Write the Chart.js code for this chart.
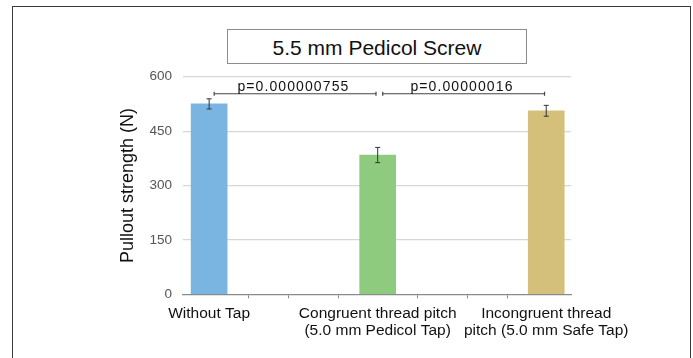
<!DOCTYPE html>
<html>
<head>
<meta charset="utf-8">
<script src="https://cdn.jsdelivr.net/npm/chart.js@4.4.0/dist/chart.umd.min.js"></script>
<style>
  html, body { margin: 0; padding: 0; background: #fff; }
  #wrap { position: relative; width: 693px; height: 358px; overflow: hidden; }
  canvas { position: absolute; left: 0; top: 0; }
  #frame { position: absolute; left: 12px; top: 6px; width: 679px; height: 400px; box-sizing: border-box; border: 1.5px solid #3c3c3c; }
  #title { position: absolute; left: 227px; top: 29px; width: 300px; height: 35px; box-sizing: border-box;
           border: 1.5px solid #8c8c8c; background: #fff; color: #111; text-align: center;
           font: 21px "Liberation Sans", Arial, sans-serif; line-height: 33px; padding-top: 1px; }
</style>
</head>
<body>
<div id="wrap">
  <canvas id="chart" width="693" height="358"></canvas>
  <div id="frame"></div>
  <div id="title">5.5 mm Pedicol Screw</div>
</div>
<script>
const FONT = '"Liberation Sans", Arial, sans-serif';

// data
const categories = [
  "Without Tap",
  ["Congruent thread pitch", "(5.0 mm Pedicol Tap)"],
  ["Incongruent thread", "pitch (5.0 mm Safe Tap)"]
];
const groupPos = [0, 1, 2];
const strength = [525, 384, 506];      // N
const strengthErr = [14, 21, 15];      // +/- N
const barColors = ["#7ab5e2", "#8fcb7e", "#d4c07a"];
const yTicks = [0, 150, 300, 450, 600];
const minorTicks = [0.231, 0.469, 0.766, 1.234, 1.531, 1.769];
const pairs = [[0, 1], [1, 2]];
const pLabels = ["p=0.000000755", "p=0.00000016"];
const bracketLevel = 553;

// brackets as little line datasets
const bracketSets = pairs.map(([a, b]) => ({
  type: "line",
  data: [{ x: a + 0.03, y: bracketLevel }, { x: b - 0.01, y: bracketLevel }],
  borderColor: "#444",
  borderWidth: 1.2,
  pointStyle: "line",
  pointRotation: 90,
  pointRadius: 2,
  pointBorderWidth: 1.2,
  pointBorderColor: "#444",
  order: 0
}));

const errorBars = {
  id: "errorBars",
  afterDatasetsDraw(chart) {
    const meta = chart.getDatasetMeta(0);
    const y = chart.scales.y;
    const ctx = chart.ctx;
    ctx.save();
    ctx.strokeStyle = "#333";
    ctx.lineWidth = 1;
    meta.data.forEach((bar, i) => {
      const top = y.getPixelForValue(strength[i] + strengthErr[i]);
      const bot = y.getPixelForValue(strength[i] - strengthErr[i]);
      ctx.beginPath();
      ctx.moveTo(bar.x, top); ctx.lineTo(bar.x, bot);
      ctx.moveTo(bar.x - 2.5, top); ctx.lineTo(bar.x + 2.5, top);
      ctx.moveTo(bar.x - 2.5, bot); ctx.lineTo(bar.x + 2.5, bot);
      ctx.stroke();
    });
    ctx.restore();
  }
};

const pValueText = {
  id: "pValueText",
  afterDatasetsDraw(chart) {
    const { ctx, scales: { x, y } } = chart;
    ctx.save();
    ctx.fillStyle = "#111";
    ctx.font = "14px " + FONT;
    ctx.letterSpacing = "1.1px";
    ctx.textAlign = "center";
    ctx.textBaseline = "alphabetic";
    pairs.forEach(([a, b], i) => {
      const cx = x.getPixelForValue((a + b) / 2);
      ctx.fillText(pLabels[i], cx, y.getPixelForValue(bracketLevel) - 3);
    });
    ctx.restore();
  }
};

new Chart(document.getElementById("chart"), {
  type: "bar",
  data: {
    datasets: [
      {
        type: "bar",
        data: groupPos.map((p, i) => ({ x: p, y: strength[i] })),
        backgroundColor: barColors,
        borderWidth: 0,
        barThickness: 36,
        order: 1
      },
      ...bracketSets
    ]
  },
  plugins: [errorBars, pValueText],
  options: {
    responsive: false,
    animation: false,
    devicePixelRatio: 1,
    layout: { padding: { left: 105, right: 122, top: 76.7, bottom: 0 } },
    plugins: { legend: { display: false }, tooltip: { enabled: false } },
    scales: {
      x: {
        type: "linear",
        min: -0.155,
        max: 2.147,
        offset: false,
        afterBuildTicks: s => {
          s.ticks = groupPos.concat(minorTicks).sort((a, b) => a - b).map(v => ({ value: v }));
        },
        afterFit: s => { s.height = 358 - 294.3; },
        ticks: {
          autoSkip: false,
          maxRotation: 0,
          padding: 7,
          color: "#111",
          font: { size: 15.5, family: FONT, lineHeight: 1.1 },
          callback: v => {
            const i = groupPos.indexOf(v);
            return i >= 0 ? categories[i] : "";
          }
        },
        grid: {
          offset: false,
          drawOnChartArea: false,
          tickLength: 4,
          lineWidth: 1,
          color: c => (c.tick && groupPos.includes(c.tick.value)) ? "rgba(0,0,0,0)" : "#8a8a8a"
        },
        border: { display: true, color: "#8a8a8a", width: 1.3 }
      },
      y: {
        min: 0,
        max: 600,
        afterBuildTicks: s => { s.ticks = yTicks.map(v => ({ value: v })); },
        afterFit: s => { s.width = 78; },
        ticks: { padding: 11, color: "#555", font: { size: 13.5, family: FONT } },
        grid: {
          drawTicks: false,
          lineWidth: 1.2,
          color: c => (c.tick && c.tick.value === 0) ? "rgba(0,0,0,0)" : "#d6d6d6"
        },
        border: { display: false },
        title: {
          display: true,
          text: "Pullout strength (N)",
          color: "#111",
          font: { size: 18, family: FONT },
          padding: { top: 12, bottom: 0 }
        }
      }
    }
  }
});
</script>
</body>
</html>
